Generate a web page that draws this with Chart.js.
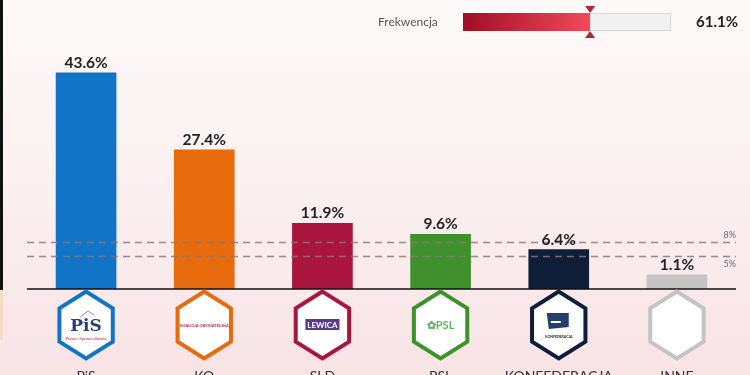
<!DOCTYPE html>
<html>
<head>
<meta charset="utf-8">
<script src="https://cdn.jsdelivr.net/npm/chart.js@4"></script>
<style>
	html, body { margin: 0; padding: 0; }
	body { width: 750px; height: 375px; overflow: hidden; background: linear-gradient(180deg, #fdf9f9 0%, #fbf1f1 45%, #f8e3e5 100%); }
	#wrap { position: relative; width: 750px; height: 375px; }
</style>
</head>
<body>
<div id="wrap"><canvas id="myChart" width="750" height="375"></canvas></div>
<script>
const parties = ["PiS", "KO", "SLD", "PSL", "KONFEDERACJA", "INNE"];
const results = [43.6, 27.4, 11.9, 9.6, 6.4, 1.1];
const partyColors = ["#1274c6", "#e76a0c", "#aa1540", "#3f922b", "#0f1e38", "#c4c4c4"];
const thresholds = [8, 5];
const thresholdLabels = ["8%", "5%"];
const turnoutLabel = "Frekwencja";
const turnout = 61.1;

// 막대 아래 육각형 로고 + 이름
const logoPlugin = {
	id: "logos",
	beforeDraw(chart) {
		const ctx = chart.ctx;
		ctx.save();
		ctx.fillStyle = "#111";
		ctx.fillRect(0, 0, 3, 290);
		ctx.fillStyle = "#f6dcc4";
		ctx.fillRect(0, 290, 3, 50);
		ctx.restore();
	},
	afterDatasetsDraw(chart) {
		const ctx = chart.ctx;
		const x = chart.scales.x;
		const y = chart.scales.y;
		const area = chart.chartArea;
		ctx.save();

		// 진입 기준선 (8%, 5%)
		ctx.setLineDash([7, 5]);
		ctx.lineWidth = 1.5;
		ctx.strokeStyle = "rgba(140,118,122,0.85)";
		thresholds.forEach((t, i) => {
			const py = Math.round(y.getPixelForValue(t)) + 0.5;
			ctx.beginPath();
			ctx.moveTo(area.left, py);
			ctx.lineTo(area.right, py);
			ctx.stroke();
			ctx.fillStyle = "#666";
			ctx.font = "9px Lato";
			ctx.textAlign = "right";
			ctx.textBaseline = "middle";
			ctx.fillText(thresholdLabels[i], area.right, i === 0 ? py - 7 : py + 8);
		});
		ctx.setLineDash([]);

		// 기준축
		ctx.strokeStyle = "#111";
		ctx.lineWidth = 1.5;
		ctx.beginPath();
		ctx.moveTo(area.left, area.bottom);
		ctx.lineTo(area.right, area.bottom);
		ctx.stroke();

		// 값 라벨
		const meta = chart.getDatasetMeta(0);
		ctx.fillStyle = "#222";
		ctx.font = "bold 15.5px Lato";
		ctx.textAlign = "center";
		ctx.textBaseline = "alphabetic";
		meta.data.forEach((bar, i) => {
			ctx.fillText(results[i].toFixed(1) + "%", bar.x, bar.y - 5);
		});

		// 육각형
		parties.forEach((p, i) => {
			const cx = x.getPixelForValue(i);
			const cy = 325;
			const r = 33.5;
			ctx.beginPath();
			for (let k = 0; k < 6; k++) {
				const a = Math.PI / 2 + k * Math.PI / 3;
				const px = cx + r * 0.92 * Math.cos(a) * 1.0;
				const py = cy - r * Math.sin(a);
				if (k === 0) ctx.moveTo(px, py); else ctx.lineTo(px, py);
			}
			ctx.closePath();
			ctx.fillStyle = "#fff";
			ctx.fill();
			ctx.lineWidth = 4;
			ctx.strokeStyle = partyColors[i];
			ctx.stroke();

			ctx.textAlign = "center";
			ctx.textBaseline = "middle";
			if (i === 0) {
				ctx.fillStyle = "#2a3f7a";
				ctx.font = "bold 17px 'DejaVu Serif'";
				ctx.fillText("PiS", cx, cy + 2);
				ctx.fillStyle = "#c0283a";
				ctx.font = "4px Lato";
				ctx.fillText("Prawo i Sprawiedliwość", cx, cy + 14);
				ctx.strokeStyle = "#8893b0";
				ctx.lineWidth = 1;
				ctx.beginPath();
				ctx.moveTo(cx - 6, cy - 8);
				ctx.lineTo(cx + 2, cy - 14);
				ctx.lineTo(cx + 8, cy - 10);
				ctx.stroke();
			} else if (i === 1) {
				ctx.fillStyle = "#c8243a";
				ctx.font = "bold 4px Lato";
				ctx.fillText("KOALICJA OBYWATELSKA", cx, cy + 1);
			} else if (i === 2) {
				ctx.fillStyle = "#5a3a8c";
				ctx.fillRect(cx - 17, cy - 6, 34, 11);
				ctx.fillStyle = "#fff";
				ctx.font = "bold 8px Lato";
				ctx.fillText("LEWICA", cx, cy);
			} else if (i === 3) {
				ctx.fillStyle = "#5cb85c";
				ctx.font = "bold 11px Lato";
				ctx.fillText("✿PSL", cx, cy);
			} else if (i === 4) {
				ctx.fillStyle = "#24406a";
				ctx.beginPath();
				ctx.moveTo(cx - 12, cy - 12);
				ctx.lineTo(cx + 10, cy - 12);
				ctx.lineTo(cx + 10, cy + 2);
				ctx.lineTo(cx - 10, cy + 4);
				ctx.closePath();
				ctx.fill();
				ctx.fillStyle = "#fff";
				ctx.fillRect(cx - 8, cy - 4, 10, 2);
				ctx.fillStyle = "#222";
				ctx.font = "bold 3.5px Lato";
				ctx.fillText("KONFEDERACJA", cx, cy + 12);
			}

			// 정당 이름
			ctx.fillStyle = "#333";
			ctx.font = "14px Lato";
			ctx.textBaseline = "alphabetic";
			ctx.fillText(p, cx, 381);
		});

		// 투표율 막대
		const tx = 463, ty = 13, tw = 208, th = 18;
		ctx.fillStyle = "#555";
		ctx.font = "12px Lato";
		ctx.textAlign = "left";
		ctx.textBaseline = "middle";
		ctx.fillText(turnoutLabel, 378, 22);
		ctx.fillStyle = "#f1f1f1";
		ctx.fillRect(tx, ty, tw, th);
		ctx.strokeStyle = "#d8d8d8";
		ctx.lineWidth = 1;
		ctx.strokeRect(tx + 0.5, ty + 0.5, tw - 1, th - 1);
		const fw = tw * turnout / 100;
		const grad = ctx.createLinearGradient(tx, 0, tx + fw, 0);
		grad.addColorStop(0, "#a00d26");
		grad.addColorStop(1, "#f24a5c");
		ctx.fillStyle = grad;
		ctx.fillRect(tx, ty, fw, th);
		const mx = tx + fw;
		ctx.fillStyle = "#b52335";
		ctx.beginPath();
		ctx.moveTo(mx - 5, 6); ctx.lineTo(mx + 5, 6); ctx.lineTo(mx, 13); ctx.closePath(); ctx.fill();
		ctx.beginPath();
		ctx.moveTo(mx - 5, 38); ctx.lineTo(mx + 5, 38); ctx.lineTo(mx, 31); ctx.closePath(); ctx.fill();
		ctx.fillStyle = "#222";
		ctx.font = "bold 15px Lato";
		ctx.textAlign = "right";
		ctx.fillText(turnout.toFixed(1) + "%", 738, 22);

		ctx.restore();
	}
};

const ctx = document.getElementById("myChart").getContext("2d");
const myChart = new Chart(ctx, {
	type: "bar",
	data: {
		labels: parties,
		datasets: [{
			data: results,
			backgroundColor: partyColors,
			base: -1.9,
			barThickness: 60,
			borderWidth: 0
		}]
	},
	options: {
		responsive: false,
		animation: false,
		layout: { padding: { left: 27, right: 14, top: 40, bottom: 86 } },
		plugins: {
			legend: { display: false },
			tooltip: { enabled: false }
		},
		scales: {
			x: { display: false },
			y: { display: false, min: -1.9, max: 50.5 }
		}
	},
	plugins: [logoPlugin]
});
</script>
</body>
</html>
